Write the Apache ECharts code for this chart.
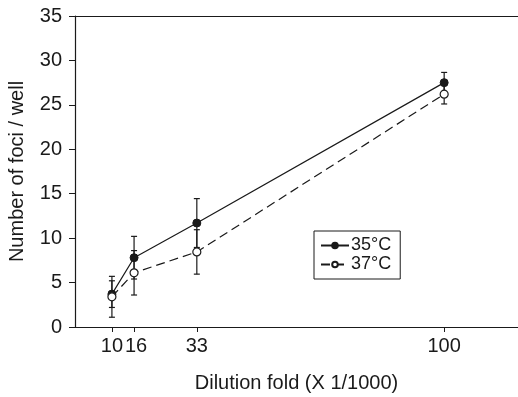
<!DOCTYPE html>
<html>
<head>
<meta charset="utf-8">
<script src="https://cdn.jsdelivr.net/npm/echarts@6/dist/echarts.min.js"></script>
<style>
  html, body { margin: 0; padding: 0; background: #fff; }
  #chart { width: 518px; height: 397px; }
</style>
</head>
<body>
<div id="chart"></div>
<script>
// dilution fold (x 1/1000)
const dilution = [10, 16, 33, 100];
const xTicks = [10, 16, 33, 100];
const yTicks = [0, 5, 10, 15, 20, 25, 30, 35];

// mean foci per well and error (±) at each dilution
const foci35 = [3.7, 7.8, 11.7, 27.5];
const err35 = [1.5, 2.4, 2.75, 1.15];
const foci37 = [3.4, 6.1, 8.45, 26.2];
const err37 = [2.3, 2.5, 2.5, 1.1];

const ink = '#1a1a1a';
const font = 'Liberation Sans, Arial, sans-serif';

const chart = echarts.init(document.getElementById('chart'));

const toPoints = (ys) => dilution.map((x, i) => [x, ys[i]]);
const toBars = (ys, es) => dilution.map((x, i) => [x, ys[i] - es[i], ys[i] + es[i]]);

// vertical error bar with caps
const renderErr = (params, api) => {
  const lo = api.coord([api.value(0), api.value(1)]);
  const hi = api.coord([api.value(0), api.value(2)]);
  const cap = 3;
  const style = { stroke: ink, lineWidth: 1.2 };
  return {
    type: 'group',
    children: [
      { type: 'line', shape: { x1: lo[0], y1: lo[1], x2: hi[0], y2: hi[1] }, style },
      { type: 'line', shape: { x1: lo[0] - cap, y1: lo[1], x2: lo[0] + cap, y2: lo[1] }, style },
      { type: 'line', shape: { x1: hi[0] - cap, y1: hi[1], x2: hi[0] + cap, y2: hi[1] }, style }
    ]
  };
};

const option = {
  animation: false,
  backgroundColor: '#fff',
  grid: { left: 75, right: 0, top: 16, bottom: 70, outerBoundsMode: 'none', containLabel: false },
  legend: {
    orient: 'vertical',
    left: 314,
    top: 231,
    padding: [5, 9, 5, 6],
    itemGap: 0,
    itemWidth: 28,
    itemHeight: 7,
    borderColor: ink,
    borderWidth: 1,
    textStyle: { fontFamily: font, fontSize: 18, color: ink, lineHeight: 19, padding: [0, 0, 0, -3] },
    data: ['35°C', '37°C']
  },
  xAxis: [
    {
      type: 'value',
      min: 0,
      max: 120,
      name: 'Dilution fold (X 1/1000)',
      nameLocation: 'middle',
      nameGap: 46,
      nameTextStyle: { fontFamily: font, fontSize: 20, color: ink },
      splitLine: { show: false },
      axisLine: { lineStyle: { color: ink, width: 1.2 } },
      axisTick: { length: 5, lineStyle: { color: ink }, customValues: xTicks },
      axisLabel: {
        fontFamily: font,
        fontSize: 20,
        color: ink,
        margin: 9,
        customValues: xTicks,
        // nudge 16 so it doesn't touch 10
        formatter: (v) => (v === 16 ? '{r|16}' : String(v)),
        rich: { r: { fontFamily: font, fontSize: 20, color: ink, padding: [0, 0, 0, 4] } }
      }
    },
    {
      type: 'value',
      position: 'top',
      min: 0,
      max: 120,
      splitLine: { show: false },
      axisLine: { show: true, lineStyle: { color: ink, width: 1.2 } },
      axisTick: { show: false },
      axisLabel: { show: false }
    }
  ],
  yAxis: {
    type: 'value',
    min: yTicks[0],
    max: yTicks[yTicks.length - 1],
    interval: 5,
    name: 'Number of foci / well',
    nameLocation: 'middle',
    nameGap: 48,
    nameTextStyle: { fontFamily: font, fontSize: 20, color: ink },
    splitLine: { show: false },
    axisLine: { show: true, lineStyle: { color: ink, width: 1.2 } },
    axisTick: { show: true, length: 6, lineStyle: { color: ink } },
    axisLabel: { fontFamily: font, fontSize: 20, color: ink, margin: 13 }
  },
  series: [
    {
      type: 'custom',
      renderItem: renderErr,
      data: toBars(foci35, err35),
      z: 1,
      silent: true
    },
    {
      type: 'custom',
      renderItem: renderErr,
      data: toBars(foci37, err37),
      z: 1,
      silent: true
    },
    {
      name: '35°C',
      type: 'line',
      data: toPoints(foci35),
      symbol: 'circle',
      symbolSize: 8,
      z: 3,
      lineStyle: { color: ink, width: 1.2 },
      itemStyle: { color: ink, borderColor: ink, borderWidth: 1 }
    },
    {
      name: '37°C',
      type: 'line',
      data: toPoints(foci37),
      symbol: 'circle',
      symbolSize: 8,
      z: 3,
      lineStyle: { color: ink, width: 1.2, type: [9, 5] },
      itemStyle: { color: '#fff', borderColor: ink, borderWidth: 1.2 }
    }
  ]
};

chart.setOption(option);
</script>
</body>
</html>
